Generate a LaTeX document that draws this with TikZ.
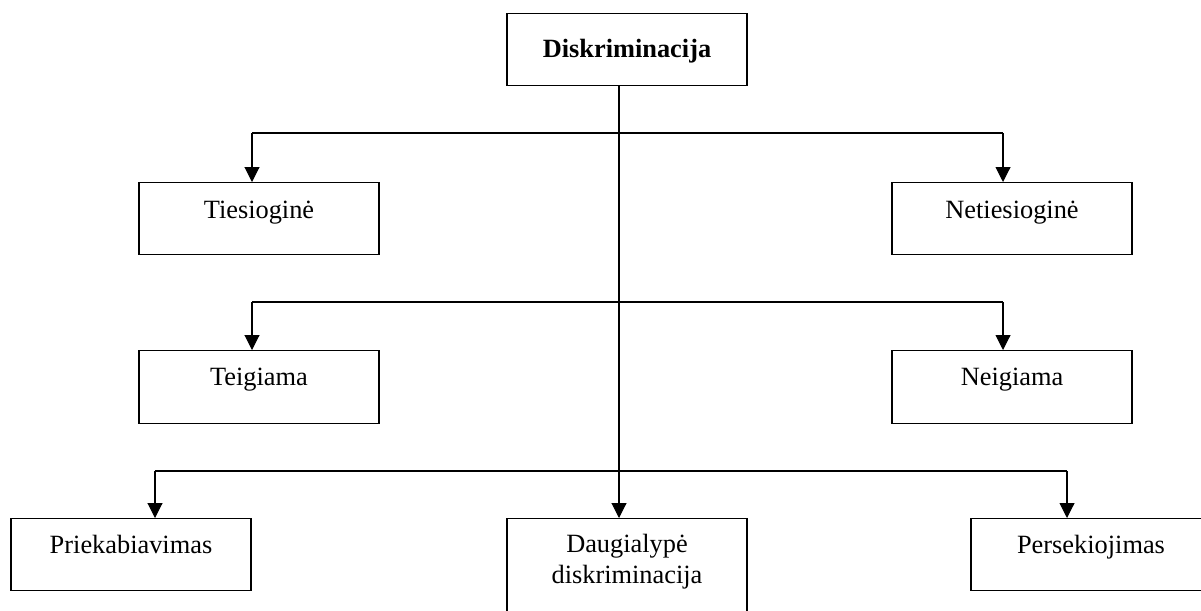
\documentclass[tikz,border=0pt]{standalone}
\usepackage{fontspec}
\setmainfont{Liberation Serif}
\usepackage{tikz}
\usetikzlibrary{arrows.meta}

\begin{document}
\begin{tikzpicture}[
  box/.style={draw=black, line width=0.7pt, inner sep=0pt, minimum width=4.8cm,
    text height=0.72cm, text depth=0.72cm, anchor=north,
    font=\fontsize{15pt}{17.6pt}\selectfont},
  line/.style={black, line width=0.6pt},
  >={Triangle[length=0.3cm,width=0.3cm]}]
\useasboundingbox (0,0) rectangle (24.02,-12.2);
\clip (0,0) rectangle (24.02,-12.2);
%boxes
\node[box, text height=0.88cm, text depth=0.56cm, font=\fontsize{15pt}{17.6pt}\selectfont\bfseries] (disk) at (12.54,-0.26) {Diskriminacija};
\node[box] (tie) at (5.18,-3.64) {Tiesioginė};
\node[box] (netie) at (20.24,-3.64) {Netiesioginė};
\node[box, text height=0.7cm, text depth=0.76cm] (teig) at (5.18,-7.0) {Teigiama};
\node[box, text height=0.7cm, text depth=0.76cm] (neig) at (20.24,-7.0) {Neigiama};
\node[box, text height=0.7cm, text depth=0.74cm] (priek) at (2.62,-10.36) {Priekabiavimas};
\node[box, align=center, text height=1.3cm, text depth=0.84cm] (daug) at (12.54,-10.36) {Daugialypė\\diskriminacija};
\node[box, text height=0.7cm, text depth=0.74cm] (pers) at (21.82,-10.36) {Persekiojimas};
%trunk
\coordinate (trunk) at ([xshift=-0.16cm]disk.south);
\draw[line, ->] (trunk) -- (trunk |- daug.north);
%first level
\coordinate (l1) at (5.04,-2.66);
\coordinate (r1) at (20.06,-2.66);
\draw[line] (l1) -- (r1);
\draw[line, ->] (l1) -- (l1 |- tie.north);
\draw[line, ->] (r1) -- (r1 |- netie.north);
%second level
\coordinate (l2) at (5.04,-6.04);
\coordinate (r2) at (20.06,-6.04);
\draw[line] (l2) -- (r2);
\draw[line, ->] (l2) -- (l2 |- teig.north);
\draw[line, ->] (r2) -- (r2 |- neig.north);
%third level
\coordinate (l3) at (3.1,-9.42);
\coordinate (r3) at (21.34,-9.42);
\draw[line] (l3) -- (r3);
\draw[line, ->] (l3) -- (l3 |- priek.north);
\draw[line, ->] (r3) -- (r3 |- pers.north);
\end{tikzpicture}
\end{document}
